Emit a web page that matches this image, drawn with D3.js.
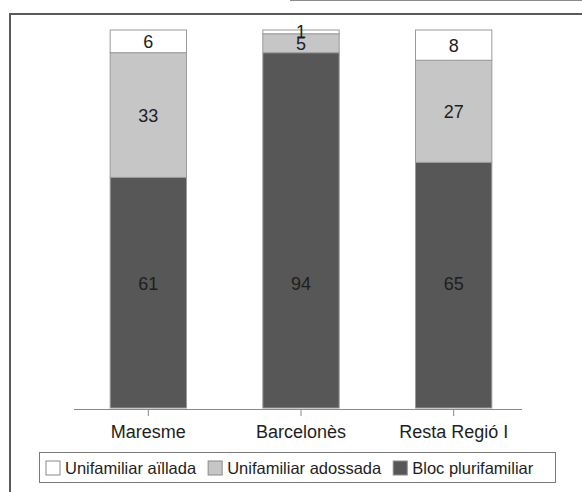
<!DOCTYPE html>
<html>
<head>
<meta charset="utf-8">
<script src="https://cdn.jsdelivr.net/npm/d3@7"></script>
<style>
  html, body { margin: 0; padding: 0; background: #fff; }
  svg { display: block; }
  text { font-family: "Liberation Sans", Arial, sans-serif; fill: #1e1e1e; }
</style>
</head>
<body>
<svg id="chart" width="582" height="492"></svg>
<script>
// Housing type share (%) by area
const categories = ["Maresme", "Barcelonès", "Resta Regió I"];
const seriesNames = ["Bloc plurifamiliar", "Unifamiliar adossada", "Unifamiliar aïllada"];
const blocPlurifamiliar = [61, 94, 65];
const unifamiliarAdossada = [33, 5, 27];
const unifamiliarAillada = [6, 1, 8];
const legendOrder = ["Unifamiliar aïllada", "Unifamiliar adossada", "Bloc plurifamiliar"];

const colors = {
  "Bloc plurifamiliar": "#575757",
  "Unifamiliar adossada": "#c6c6c6",
  "Unifamiliar aïllada": "#ffffff"
};

const rows = categories.map((c, i) => ({
  category: c,
  "Bloc plurifamiliar": blocPlurifamiliar[i],
  "Unifamiliar adossada": unifamiliarAdossada[i],
  "Unifamiliar aïllada": unifamiliarAillada[i]
}));

const svg = d3.select("#chart");

// page edge above the frame
svg.append("line")
  .attr("x1", 290).attr("x2", 582)
  .attr("y1", 0.5).attr("y2", 0.5)
  .attr("stroke", "#8a8a8a")
  .attr("stroke-width", 1);

// page frame
svg.append("path")
  .attr("d", "M10,492 L10,14 L582,14")
  .attr("fill", "none")
  .attr("stroke", "#5a5a5a")
  .attr("stroke-width", 2);

const x = d3.scaleBand()
  .domain(categories)
  .range([72, 530])
  .paddingInner(0.5)
  .paddingOuter(0.25);

const y = d3.scaleLinear().domain([0, 100]).range([408, 30]);

const stacked = d3.stack().keys(seriesNames)(rows);

const layers = svg.append("g").selectAll("g")
  .data(stacked)
  .join("g")
  .attr("fill", d => colors[d.key]);

layers.selectAll("rect")
  .data(d => d)
  .join("rect")
  .attr("x", d => x(d.data.category))
  .attr("width", x.bandwidth())
  .attr("y", d => y(d[1]))
  .attr("height", d => y(d[0]) - y(d[1]))
  .attr("stroke", "#9a9a9a")
  .attr("stroke-width", 1);

// value labels: the base series sits at a shared height, the others centred in their segment
layers.each(function (layer, li) {
  d3.select(this).selectAll("text")
    .data(layer)
    .join("text")
    .attr("x", d => x(d.data.category) + x.bandwidth() / 2)
    .attr("y", d => {
      if (li === 0) return y(33);
      const mid = (d[0] + d[1]) / 2;
      return y(mid);
    })
    .attr("dy", "0.36em")
    .attr("text-anchor", "middle")
    .attr("font-size", 18)
    .text(d => d.data[layer.key]);
});

// category axis
const axis = svg.append("g")
  .attr("transform", "translate(0,409)")
  .call(d3.axisBottom(x).tickSize(7).tickSizeOuter(0).tickPadding(9));
axis.select(".domain").attr("stroke", "#8a8a8a").attr("d", "M74,0.5H522");
axis.selectAll(".tick line").attr("stroke", "#8a8a8a");
axis.selectAll(".tick text")
  .attr("font-size", 18)
  .attr("font-family", "Liberation Sans, Arial, sans-serif")
  .attr("fill", "#1e1e1e");

// legend
const legend = svg.append("g");
legend.append("rect")
  .attr("x", 39.5).attr("y", 452.5)
  .attr("width", 516).attr("height", 30)
  .attr("fill", "#fff")
  .attr("stroke", "#7a7a7a");

let lx = 46;
legendOrder.forEach(name => {
  const g = legend.append("g");
  g.append("rect")
    .attr("x", lx).attr("y", 461)
    .attr("width", 14).attr("height", 14)
    .attr("fill", colors[name])
    .attr("stroke", "#8a8a8a");
  const t = g.append("text")
    .attr("x", lx + 19).attr("y", 474)
    .attr("font-size", 16.5)
    .text(name);
  lx += 19 + t.node().getComputedTextLength() + 12;
});
</script>
</body>
</html>
